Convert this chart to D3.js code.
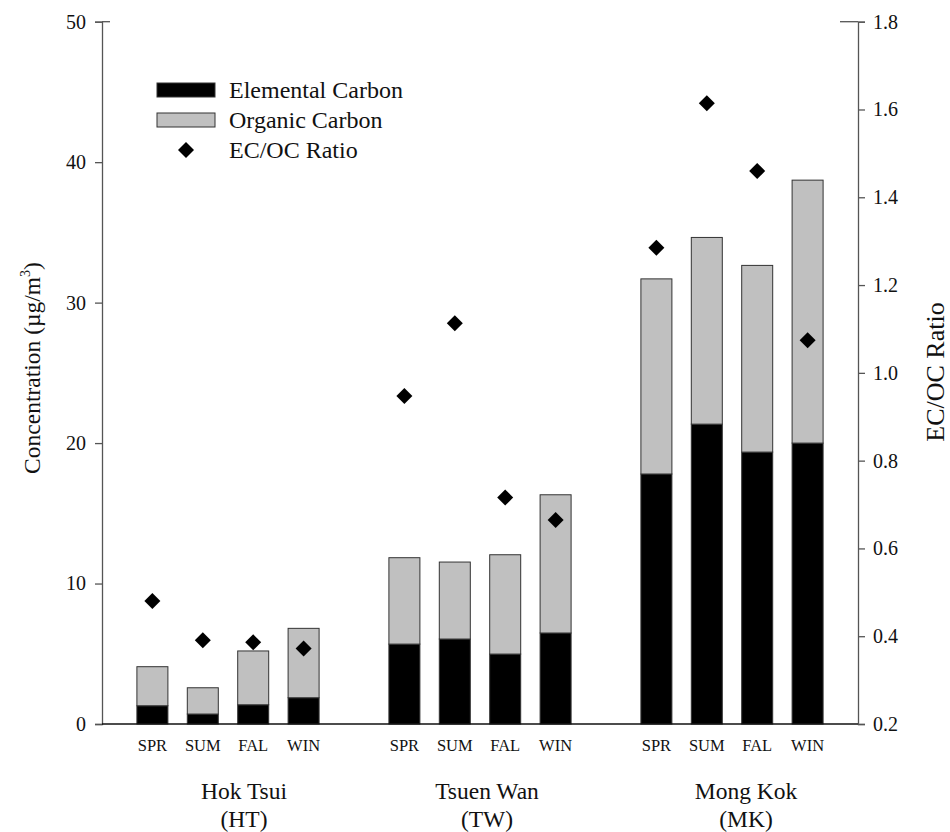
<!DOCTYPE html>
<html>
<head>
<meta charset="utf-8">
<script src="https://cdn.jsdelivr.net/npm/d3@7"></script>
<style>
  html, body { margin: 0; padding: 0; background: #fff; }
  svg { display: block; font-family: "Liberation Serif", "Times New Roman", serif; }
</style>
</head>
<body>
<svg id="chart" width="950" height="832"></svg>
<script>
// Sampling sites and seasons
const sites = ["Hok Tsui", "Tsuen Wan", "Mong Kok"];
const siteCodes = ["(HT)", "(TW)", "(MK)"];
const seasons = ["SPR", "SUM", "FAL", "WIN"];

// Carbon concentrations (µg/m3), site by site, SPR..WIN
const elementalCarbon = [1.30, 0.71, 1.37, 1.87, 5.69, 6.05, 4.98, 6.48, 17.80, 21.35, 19.36, 20.00];
const organicCarbon   = [2.78, 1.87, 3.83, 4.94, 6.15, 5.48, 7.07, 9.84, 13.89, 13.29, 13.29, 18.72];
// EC/OC ratio (right axis)
const ecOcRatio       = [0.480, 0.391, 0.386, 0.372, 0.947, 1.113, 0.716, 0.665, 1.285, 1.614, 1.460, 1.074];

// Axis ticks
const concTicks = [0, 10, 20, 30, 40, 50];
const ratioTicks = [0.2, 0.4, 0.6, 0.8, 1.0, 1.2, 1.4, 1.6, 1.8];

const svg = d3.select("#chart");
const plotLeft = 102, plotRight = 858, plotTop = 21.7, plotBottom = 724;

// One slot per bar, with an empty slot between sites and at each end
const x = d3.scaleLinear().domain([-1, 14]).range([plotLeft, plotRight]);
const slot = (i) => Math.floor(i / 4) * 5 + (i % 4);
const yConc = d3.scaleLinear().domain([0, 50]).range([plotBottom, plotTop]);
const yRatio = d3.scaleLinear().domain([0.2, 1.8]).range([plotBottom, plotTop]);
const barW = 31;

const rows = elementalCarbon.map((ec, i) => ({
  i, ec, oc: organicCarbon[i], ratio: ecOcRatio[i],
  season: seasons[i % 4], site: Math.floor(i / 4)
}));

// Stacked bars: EC at the bottom, OC on top
const stack = d3.stack().keys(["ec", "oc"])(rows);
const fills = { ec: "#000000", oc: "#c0c0c0" };
svg.append("g").selectAll("g").data(stack).join("g")
  .attr("fill", d => fills[d.key])
  .selectAll("rect").data(d => d).join("rect")
  .attr("x", d => x(slot(d.data.i)) - barW / 2)
  .attr("width", barW)
  .attr("y", d => yConc(d[1]))
  .attr("height", d => yConc(d[0]) - yConc(d[1]))
  .attr("stroke", "#333")
  .attr("stroke-width", 1);

// EC/OC ratio markers
const diamond = d3.symbol().type(d3.symbolSquare).size(128);
svg.append("g").selectAll("path").data(rows).join("path")
  .attr("d", diamond)
  .attr("transform", d => `translate(${x(slot(d.i))},${yRatio(d.ratio)}) rotate(45)`)
  .attr("fill", "#000");

// Left axis
const axL = svg.append("g").attr("transform", `translate(${plotLeft},0)`)
  .call(d3.axisLeft(yConc).tickValues(concTicks).tickSize(7).tickPadding(9).tickFormat(d3.format("d")));
// Right axis
const axR = svg.append("g").attr("transform", `translate(${plotRight},0)`)
  .call(d3.axisRight(yRatio).tickValues(ratioTicks).tickSize(7).tickPadding(8).tickFormat(d3.format(".1f")));
[axL, axR].forEach(g => {
  g.select(".domain").attr("stroke", "#555").attr("stroke-width", 1.3);
  g.selectAll(".tick line").attr("stroke", "#555").attr("stroke-width", 1.3);
  g.selectAll(".tick text").attr("font-size", 20).attr("font-family", "Liberation Serif").attr("fill", "#111");
});
// small inward stubs at the top of each vertical axis
svg.append("line").attr("x1", plotLeft).attr("x2", plotLeft + 8).attr("y1", plotTop).attr("y2", plotTop)
  .attr("stroke", "#555").attr("stroke-width", 1.3);
svg.append("line").attr("x1", plotRight - 18).attr("x2", plotRight).attr("y1", plotTop).attr("y2", plotTop)
  .attr("stroke", "#555").attr("stroke-width", 1.3);

// Baseline
svg.append("line").attr("x1", plotLeft).attr("x2", plotRight).attr("y1", plotBottom).attr("y2", plotBottom)
  .attr("stroke", "#111").attr("stroke-width", 1.5);

// Season labels
svg.append("g").selectAll("text").data(rows).join("text")
  .attr("x", d => x(slot(d.i)))
  .attr("y", 751)
  .attr("text-anchor", "middle")
  .attr("font-size", 16.5)
  .attr("fill", "#111")
  .text(d => d.season);

// Site labels
const siteShift = [16, 7, 14];
const siteG = svg.append("g").selectAll("g").data(sites).join("g");
siteG.append("text")
  .attr("x", (d, i) => x(i * 5 + 1.5) + siteShift[i])
  .attr("y", 799).attr("text-anchor", "middle").attr("font-size", 23.5).attr("fill", "#111")
  .text(d => d);
siteG.append("text")
  .attr("x", (d, i) => x(i * 5 + 1.5) + siteShift[i])
  .attr("y", 826.5).attr("text-anchor", "middle").attr("font-size", 23.5).attr("fill", "#111")
  .text((d, i) => siteCodes[i]);

// Axis titles
const yTitle = svg.append("text")
  .attr("transform", "translate(40,368) rotate(-90)")
  .attr("text-anchor", "middle").attr("font-size", 23.5).attr("fill", "#111");
yTitle.append("tspan").text("Concentration (µg/m");
yTitle.append("tspan").attr("font-size", 14).attr("dy", -10).text("3");
yTitle.append("tspan").attr("dy", 10).text(")");

svg.append("text")
  .attr("transform", "translate(944,372) rotate(-90)")
  .attr("text-anchor", "middle").attr("font-size", 26).attr("fill", "#111")
  .text("EC/OC Ratio");

// Legend
const legend = svg.append("g");
const legendItems = [
  { label: "Elemental Carbon", kind: "ec" },
  { label: "Organic Carbon", kind: "oc" },
  { label: "EC/OC Ratio", kind: "ratio" }
];
legendItems.forEach((item, k) => {
  const cy = 90 + k * 30;
  if (item.kind === "ratio") {
    legend.append("path").attr("d", diamond)
      .attr("transform", `translate(186,${cy}) rotate(45)`).attr("fill", "#000");
  } else {
    legend.append("rect").attr("x", 157).attr("y", cy - 7).attr("width", 58).attr("height", 14)
      .attr("fill", fills[item.kind]).attr("stroke", "#333").attr("stroke-width", 1);
  }
  legend.append("text").attr("x", 229).attr("y", cy + 8).attr("font-size", 24).attr("fill", "#111")
    .text(item.label);
});
</script>
</body>
</html>
